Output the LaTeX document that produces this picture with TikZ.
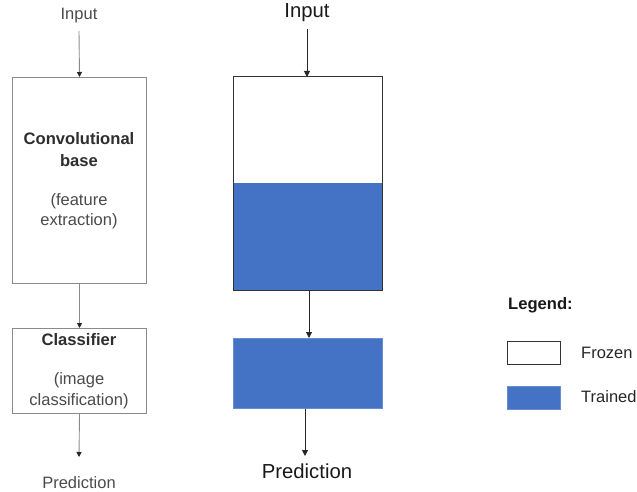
\documentclass[tikz,border=0pt]{standalone}
\usepackage{fontspec}
\setmainfont{Liberation Sans}
\usetikzlibrary{arrows.meta}
\definecolor{trainblue}{HTML}{4472C4}
\definecolor{lgray}{HTML}{8A8A8A}
\definecolor{ltext}{HTML}{4A4A4A}
\definecolor{lbold}{HTML}{2E2E2E}
\definecolor{rline}{HTML}{333333}
\begin{document}
\begin{tikzpicture}[x=1pt,y=1pt,
  lbox/.style={draw=lgray, line width=1pt, fill=white, inner sep=0pt, anchor=north west},
  ltxt/.style={text=ltext, inner sep=0pt, font=\fontsize{16.5}{19}\selectfont},
  lbtxt/.style={text=lbold, inner sep=0pt, font=\fontsize{16.6}{19}\selectfont\bfseries},
  rtxt/.style={text=black!90, inner sep=0pt, font=\fontsize{20.3}{24}\selectfont},
  larrow/.style={draw=lgray, line width=0.9pt, -{Triangle[length=5pt,width=5pt,color=black!85,fill=black!85]}},
  rarrow/.style={draw=black!85, line width=1pt, -{Triangle[length=6pt,width=6pt]}},
  bluebox/.style={fill=trainblue, draw=trainblue!80!white, line width=0.6pt, inner sep=0pt, anchor=north west},
  legbox/.style={inner sep=0pt, minimum width=53pt, minimum height=23pt, anchor=north west}
]
\useasboundingbox (0,0) rectangle (637,-492);
% ---------- left panel ----------
\node[ltxt] (linput) at (79,-16) {Input};
\node[lbox, minimum width=134pt, minimum height=206pt] (conv) at (12,-77) {};
\node[lbtxt] (convt1) at (79,-139) {Convolutional};
\node[lbtxt] (convt2) at (79,-161) {base};
\node[ltxt] (convt3) at (79,-201) {(feature};
\node[ltxt] (convt4) at (79,-221) {extraction)};
\node[lbox, minimum width=134pt, minimum height=85pt] (clf) at (12,-328) {};
\node[lbtxt] (clft1) at (79,-340) {Classifier};
\node[ltxt] (clft2) at (79,-380) {(image};
\node[ltxt] (clft3) at (79,-401) {classification)};
\node[ltxt] (lpred) at (79,-483) {Prediction};
\coordinate (linbot) at (79,-31);
\coordinate (lpredtop) at (79,-457);
\draw[larrow] (linbot) -- (conv.north);
\draw[larrow] (conv.south) -- (clf.north);
\draw[larrow] (clf.south) -- (lpredtop);
% ---------- right panel ----------
\node[rtxt] (rinput) at (307,-13) {Input};
\node[inner sep=0pt, minimum width=149pt, minimum height=106pt, fill=white, anchor=north west] (frz) at (233,-77) {};
\node[bluebox, draw=none, minimum width=149pt, minimum height=107pt] (trn) at (233,-183) {};
\draw[rline, line width=1pt] (frz.north west) rectangle (trn.south east);
\node[bluebox, minimum width=149pt, minimum height=70pt] (rclf) at (233,-338) {};
\node[rtxt] (rpred) at (307,-471) {Prediction};
\coordinate (rinbot) at (307,-29);
\coordinate (rmidtop) at (309,-290);
\coordinate (rpredtop) at (305,-456);
\draw[rarrow] (rinbot) -- (frz.north -| rinbot);
\draw[rarrow] (rmidtop) -- (rclf.north -| rmidtop);
\draw[rarrow] (rclf.south -| rpredtop) -- (rpredtop);
% ---------- legend ----------
\node[lbtxt, text=black!90, anchor=west] (legt) at (508,-305) {Legend:};
\node[legbox, draw=rline, line width=0.8pt, fill=white] (lfrz) at (507,-341) {};
\node[ltxt, text=black!85, anchor=west] (lfrzt) at (581,-353) {Frozen};
\node[legbox, fill=trainblue, draw=trainblue!80!white, line width=0.6pt] (ltrn) at (507,-386) {};
\node[ltxt, text=black!85, anchor=west] (ltrnt) at (581,-397) {Trained};
\end{tikzpicture}
\end{document}
